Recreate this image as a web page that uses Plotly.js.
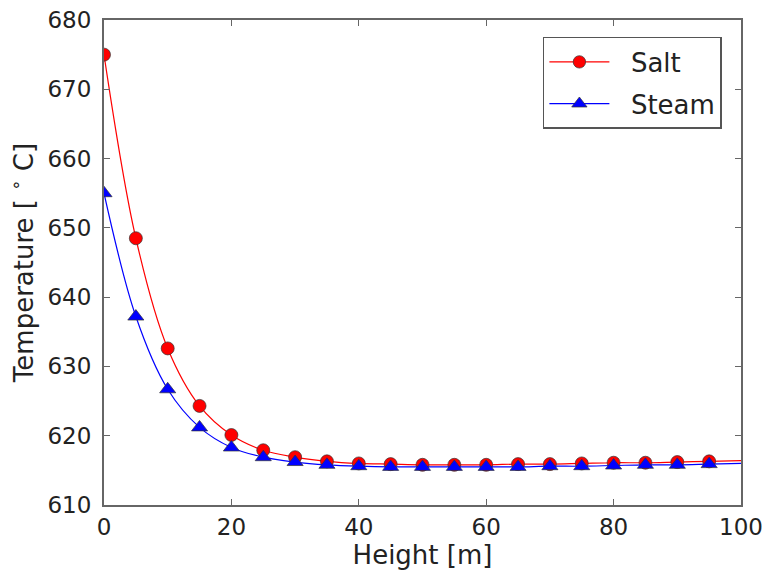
<!DOCTYPE html>
<html>
<head>
<meta charset="utf-8">
<script src="https://cdn.plot.ly/plotly-3.0.1.min.js"></script>
<style>
  html, body { margin: 0; padding: 0; background: #fff; }
  #chart { width: 766px; height: 571px; }
</style>
</head>
<body>
<div id="chart"></div>
<script>
// Height along the receiver [m]
const height = [0, 5, 10, 15, 20, 25, 30, 35, 40, 45, 50, 55, 60, 65, 70, 75, 80, 85, 90, 95, 100];

// Temperatures [°C]
const saltTemp = [675.0, 648.5, 632.6, 624.3, 620.1, 617.9, 616.9, 616.3, 616.0, 615.9, 615.8, 615.8, 615.8, 615.9, 615.9, 616.0, 616.1, 616.1, 616.2, 616.3, 616.4];
const steamTemp = [655.0, 637.2, 626.7, 621.2, 618.3, 616.9, 616.2, 615.8, 615.6, 615.5, 615.5, 615.5, 615.5, 615.5, 615.6, 615.6, 615.7, 615.8, 615.8, 615.9, 616.0];

// Legend labels (padded so the text sits clear of the symbol)
const seriesNames = ['\u00a0\u00a0Salt', '\u00a0\u00a0Steam'];

// Markers every 5 m up to 95 m; the curve itself runs on to 100 m
const circleSizes = height.map(h => (h < 100 ? 13 : 0));
const triSizes = height.map(h => (h < 100 ? 14 : 0));

const textColor = '#222';
const tickFont = { family: 'DejaVu Sans, sans-serif', color: textColor, size: 23 };
const titleFont = { family: 'DejaVu Sans, sans-serif', color: textColor, size: 26 };

const traces = [
  {
    x: height, y: saltTemp, name: seriesNames[0], type: 'scatter', mode: 'lines+markers',
    legendgroup: 'salt',
    line: { color: '#ff0000', width: 1.2, shape: 'spline', smoothing: 1 },
    marker: { symbol: 'circle', color: '#ff0000', opacity: 1, size: circleSizes,
              line: { color: '#333', width: 0.7 } }
  },
  {
    x: height, y: steamTemp, name: seriesNames[1], type: 'scatter', mode: 'lines+markers',
    legendgroup: 'steam',
    line: { color: '#0000ff', width: 1.2, shape: 'spline', smoothing: 1 },
    marker: { symbol: 'triangle-up', color: '#0000ff', opacity: 1, size: triSizes,
              line: { color: '#333', width: 0.7 } }
  }
];

const axisCommon = {
  showgrid: false, zeroline: false,
  showline: true, linecolor: '#666', linewidth: 2, mirror: 'ticks',
  ticks: 'inside', ticklen: 6, tickcolor: '#666', tickwidth: 1,
  tickfont: tickFont
};

const layout = {
  width: 766, height: 571,
  margin: { l: 104, r: 25, t: 20, b: 66 },
  paper_bgcolor: '#fff', plot_bgcolor: '#fff',
  font: tickFont,
  showlegend: true,
  legend: {
    x: 0.689, y: 0.965, xanchor: 'left', yanchor: 'top',
    bordercolor: '#555', borderwidth: 1.5, bgcolor: '#fff',
    font: { family: 'DejaVu Sans, sans-serif', size: 26, color: textColor },
    itemwidth: 60, tracegroupgap: 5
  },
  xaxis: Object.assign({}, axisCommon, {
    range: [0, 100], tickvals: [0, 20, 40, 60, 80, 100],
    ticklabelstandoff: 0,
    title: { text: 'Height [m]', font: titleFont, standoff: 4 }
  }),
  yaxis: Object.assign({}, axisCommon, {
    range: [610, 680], tickvals: [610, 620, 630, 640, 650, 660, 670, 680],
    ticklabelstandoff: 6,
    title: { text: 'Temperature [ <sup>∘</sup> C]', font: titleFont, standoff: 6 }
  })
};

Plotly.newPlot('chart', traces, layout, { displayModeBar: false, staticPlot: true });
</script>
</body>
</html>
